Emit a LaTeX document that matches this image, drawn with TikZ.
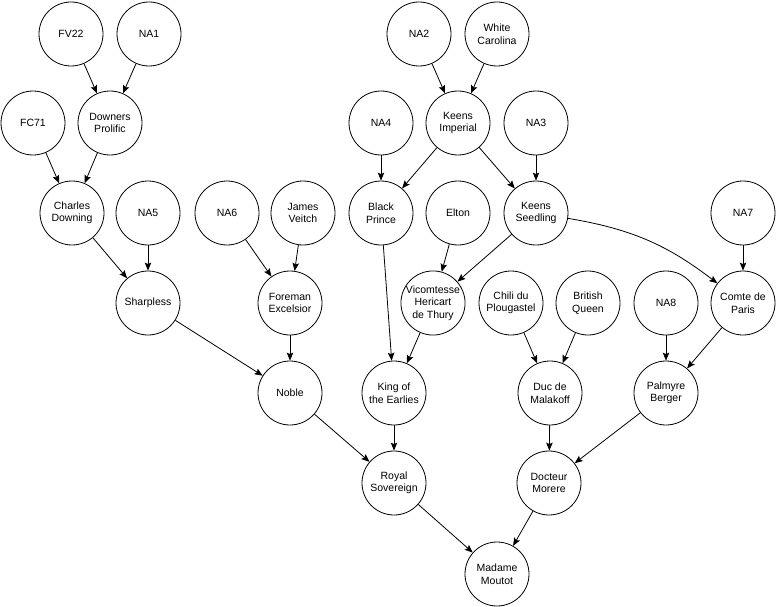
\documentclass[tikz,border=0pt]{standalone}
\usepackage{fontspec}
\setmainfont{Liberation Sans}
\usetikzlibrary{arrows.meta}
\begin{document}
\begin{tikzpicture}[x=1pt,y=1pt,
  var/.style={circle,draw,line width=0.8pt,minimum size=64pt,inner sep=0pt,
    align=center,font=\fontsize{10.5}{12.5}\selectfont},
  edge/.style={line width=0.8pt,-{Stealth[length=8pt,width=6.5pt,inset=1.5pt]}}]
\useasboundingbox[fill=white] (0,0) rectangle (776,-607);
% row 1
\node[var] (fv22) at (71,-34) {FV22};
\node[var] (na1) at (149,-34) {NA1};
\node[var] (na2) at (419,-34) {NA2};
\node[var] (wc) at (497,-34) {White\\Carolina};
% row 2
\node[var] (fc71) at (33,-123) {FC71};
\node[var] (dp) at (110,-123) {Downers\\Prolific};
\node[var] (na4) at (381,-123) {NA4};
\node[var] (ki) at (458,-123) {Keens\\Imperial};
\node[var] (na3) at (536,-123) {NA3};
% row 3
\node[var] (cd) at (72,-213) {Charles\\Downing};
\node[var] (na5) at (148,-213) {NA5};
\node[var] (na6) at (227,-213) {NA6};
\node[var] (jv) at (303,-213) {James\\Veitch};
\node[var] (bp) at (381,-213) {Black\\Prince};
\node[var] (el) at (458,-213) {Elton};
\node[var] (ks) at (536,-213) {Keens\\Seedling};
\node[var] (na7) at (743,-213) {NA7};
% row 4
\node[var] (sh) at (148,-303) {Sharpless};
\node[var] (fe) at (290,-303) {Foreman\\Excelsior};
\node[var] (vh) at (433,-303) {Vicomtesse\\Hericart\\de Thury};
\node[var] (cp) at (511,-303) {Chili du\\Plougastel};
\node[var] (bq) at (588,-303) {British\\Queen};
\node[var] (na8) at (666,-303) {NA8};
\node[var] (cdp) at (743,-303) {Comte de\\Paris};
% row 5
\node[var] (no) at (290,-393) {Noble};
\node[var] (ke) at (394,-393) {King of\\the Earlies};
\node[var] (dm) at (550,-393) {Duc de\\Malakoff};
\node[var] (pb) at (666,-393) {Palmyre\\Berger};
% row 6
\node[var] (rs) at (394,-483) {Royal\\Sovereign};
\node[var] (dmo) at (549,-483) {Docteur\\Morere};
% row 7
\node[var] (mm) at (497,-574) {Madame\\Moutot};
% edges
\draw[edge] (fv22) -- (dp);
\draw[edge] (na1) -- (dp);
\draw[edge] (fc71) -- (cd);
\draw[edge] (dp) -- (cd);
\draw[edge] (cd) -- (sh);
\draw[edge] (na5) -- (sh);
\draw[edge] (na6) -- (fe);
\draw[edge] (jv) -- (fe);
\draw[edge] (sh) -- (no);
\draw[edge] (fe) -- (no);
\draw[edge] (na2) -- (ki);
\draw[edge] (wc) -- (ki);
\draw[edge] (na4) -- (bp);
\draw[edge] (ki) -- (bp);
\draw[edge] (ki) -- (ks);
\draw[edge] (na3) -- (ks);
\draw[edge] (bp) -- (ke);
\draw[edge] (el) -- (vh);
\draw[edge] (ks) -- (vh);
\draw[edge] (ks) to[bend left=14] (cdp);
\draw[edge] (na7) -- (cdp);
\draw[edge] (vh) -- (ke);
\draw[edge] (cp) -- (dm);
\draw[edge] (bq) -- (dm);
\draw[edge] (na8) -- (pb);
\draw[edge] (cdp) -- (pb);
\draw[edge] (no) -- (rs);
\draw[edge] (ke) -- (rs);
\draw[edge] (dm) -- (dmo);
\draw[edge] (pb) -- (dmo);
\draw[edge] (rs) -- (mm);
\draw[edge] (dmo) -- (mm);
\end{tikzpicture}
\end{document}
